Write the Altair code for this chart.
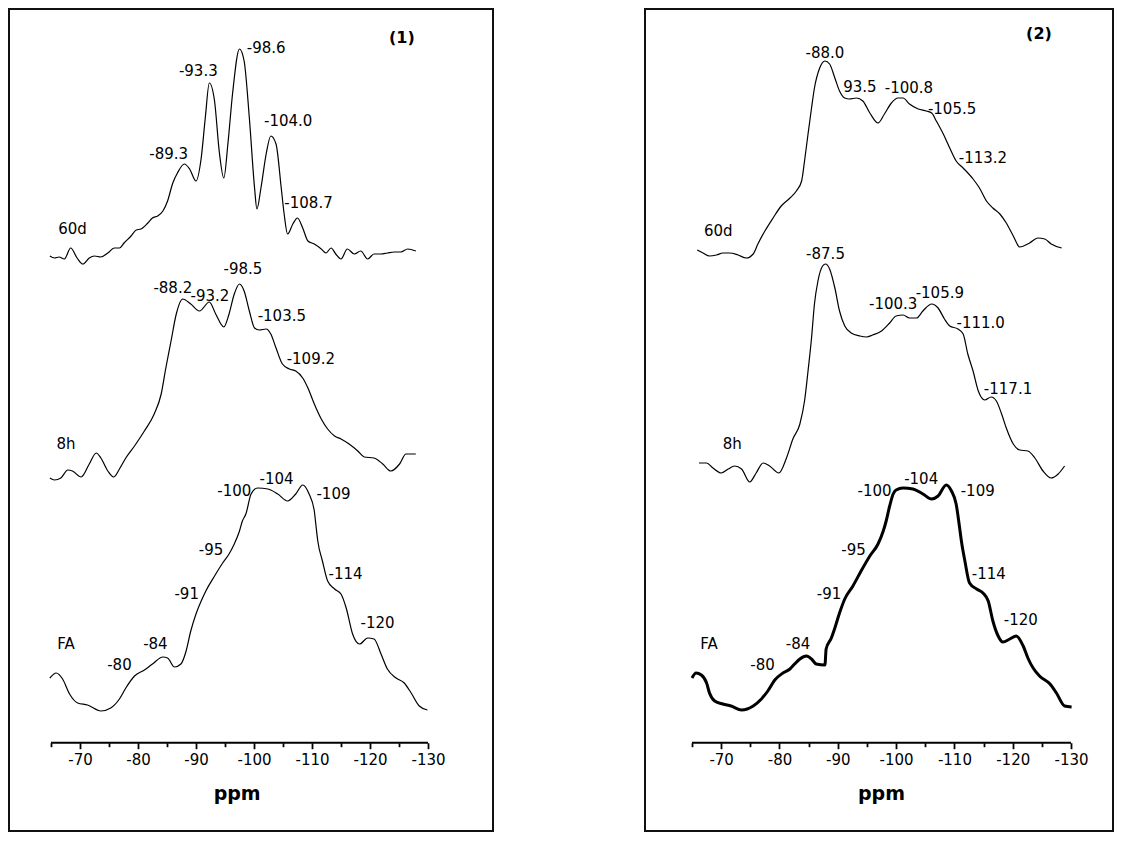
import altair as alt
import pandas as pd

# ---------------- Panel (1) spectra (ppm, stacked intensity a.u.) ----------------
P1_60D_PPM = [-64.8, -65.6, -66.4, -67.3, -68.4, -69.5, -70.5, -71.6, -72.5, -73.6,
              -74.8, -75.9, -76.8, -77.6, -78.8, -79.7, -80.5, -81.7, -82.5, -83.4,
              -84.3, -85.1, -86.0, -86.8, -88.0, -88.9, -90.0, -90.9, -91.6, -92.3,
              -93.2, -94.0, -94.8, -95.5, -96.3, -97.5, -98.3, -99.2, -100.1, -100.5,
              -101.2, -102.1, -102.9, -103.8, -104.7, -105.2, -105.8, -106.7, -107.5, -108.4,
              -109.3, -110.4, -111.6, -112.4, -113.3, -114.1, -115.0, -116.1, -117.3, -118.4,
              -119.6, -120.7, -121.9, -123.0, -124.2, -125.3, -126.5, -127.9]
P1_60D_INT = [585, 583, 584, 582, 593, 583, 577, 583, 585, 584,
              588, 593, 593, 598, 605, 611, 612, 618, 623, 625,
              630, 640, 658, 668, 677, 672, 660, 683, 723, 758,
              740, 690, 663, 697, 747, 792, 780, 723, 653, 632,
              653, 687, 705, 697, 653, 627, 607, 617, 623, 613,
              600, 597, 592, 588, 593, 587, 582, 592, 587, 590,
              582, 587, 587, 588, 589, 589, 592, 590]

P1_8H_PPM = [-64.8, -65.6, -66.7, -67.9, -68.7, -70.2, -71.6, -72.8, -73.6, -74.8,
             -75.8, -76.8, -77.9, -79.4, -81.1, -82.8, -84.0, -84.8, -85.7, -86.6,
             -87.7, -89.1, -90.6, -92.3, -93.4, -94.8, -95.7, -96.6, -97.5, -98.3,
             -99.2, -100.1, -100.9, -102.1, -102.9, -103.8, -104.9, -106.1, -107.2, -108.4,
             -109.3, -110.4, -111.6, -112.7, -113.9, -115.0, -116.4, -117.9, -119.0, -120.7,
             -122.2, -123.6, -125.1, -126.2, -127.9]
P1_8H_INT = [363, 361, 363, 371, 370, 364, 377, 388, 383, 370,
             364, 372, 383, 395, 410, 427, 447, 473, 500, 527,
             542, 537, 530, 539, 527, 514, 527, 547, 557, 550,
             530, 513, 511, 512, 507, 493, 477, 472, 470, 463,
             453, 437, 422, 412, 405, 402, 397, 390, 384, 383,
             377, 370, 377, 387, 387]

P1_FA_PPM = [-64.8, -65.9, -67.0, -68.2, -69.6, -71.3, -73.6, -75.3, -76.8, -77.9,
             -79.4, -81.1, -82.5, -84.3, -85.1, -86.3, -87.4, -88.3, -89.1, -90.0,
             -90.9, -91.7, -93.2, -94.6, -95.7, -96.6, -97.5, -98.0, -98.6, -99.5,
             -100.6, -102.4, -104.1, -105.8, -107.2, -108.4, -109.5, -110.4, -110.6, -111.0,
             -111.8, -112.7, -113.9, -115.0, -115.9, -117.0, -118.2, -119.6, -120.7, -121.9,
             -123.0, -124.5, -125.9, -127.1, -128.5, -129.9]
P1_FA_INT = [163, 168, 162, 147, 138, 136, 130, 133, 142, 153,
             165, 171, 177, 184, 183, 174, 177, 190, 210, 227,
             240, 250, 265, 278, 287, 297, 310, 320, 327, 347,
             353, 352, 347, 340, 347, 356, 347, 330, 320, 300,
             280, 260, 252, 247, 233, 207, 197, 203, 202, 187,
             172, 163, 158, 148, 135, 131]

# ---------------- Panel (2) spectra ----------------
P2_60D_PPM = [-65.9, -66.9, -68.0, -69.2, -70.3, -71.5, -72.9, -74.3, -75.5, -76.3,
              -77.5, -78.9, -80.3, -81.8, -82.9, -83.8, -84.3, -84.9, -85.5, -86.0,
              -86.9, -87.8, -88.6, -89.5, -90.3, -91.2, -92.0, -93.2, -94.3, -95.5,
              -96.9, -98.0, -99.2, -100.3, -101.2, -102.3, -103.8, -105.2, -106.1, -106.9,
              -108.1, -109.2, -110.3, -111.5, -113.2, -114.3, -115.5, -116.6, -117.8, -118.9,
              -120.1, -121.2, -122.9, -124.3, -125.5, -126.6, -128.4]
P2_60D_INT = [591, 588, 585, 586, 588, 588, 586, 583, 587, 597,
              610, 623, 635, 643, 650, 660, 680, 707, 733, 753,
              773, 780, 777, 763, 750, 743, 742, 743, 740, 728,
              718, 727, 738, 743, 743, 737, 732, 730, 728, 720,
              707, 693, 680, 673, 662, 653, 640, 633, 627, 618,
              605, 594, 598, 603, 602, 597, 593]

P2_8H_PPM = [-66.2, -67.5, -68.6, -70.0, -71.2, -72.3, -73.5, -74.9, -76.0, -77.2,
             -78.3, -79.9, -81.2, -82.3, -83.5, -84.3, -84.9, -85.5, -86.0, -86.6,
             -87.4, -87.9, -88.6, -89.5, -90.3, -91.2, -92.3, -93.8, -94.9, -96.0,
             -97.5, -98.9, -100.0, -101.2, -102.3, -103.5, -104.6, -106.1, -107.2, -108.3,
             -109.2, -110.6, -111.5, -112.3, -113.2, -114.1, -115.2, -116.3, -117.2, -118.1,
             -118.9, -120.1, -121.2, -122.6, -123.8, -125.2, -126.6, -127.8, -128.9]
P2_8H_INT = [378, 378, 373, 368, 372, 375, 372, 359, 368, 378,
             375, 368, 383, 402, 417, 440, 470, 503, 537, 560,
             575, 577, 572, 553, 530, 515, 508, 505, 504, 506,
             510, 518, 525, 526, 523, 523, 530, 537, 533, 522,
             515, 512, 507, 487, 470, 450, 441, 444, 440, 427,
             413, 397, 391, 390, 383, 370, 363, 367, 375]

P2_FA_PPM = [-65.0, -65.7, -66.6, -67.5, -68.0, -68.9, -70.3, -71.7, -73.5, -75.5,
             -76.9, -78.0, -79.2, -80.6, -81.8, -82.6, -83.5, -84.6, -85.5, -86.3,
             -87.8, -88.0, -88.9, -89.5, -90.3, -91.2, -92.6, -94.0, -95.5, -96.9,
             -97.8, -98.3, -98.9, -99.5, -100.0, -101.2, -102.9, -104.6, -106.1, -107.2,
             -108.6, -109.5, -110.3, -110.9, -111.2, -111.8, -112.6, -113.8, -114.9, -115.8,
             -116.6, -117.5, -118.3, -119.5, -120.6, -121.8, -122.6, -123.5, -124.6, -126.4,
             -127.5, -128.9, -130.1]
P2_FA_INT = [163, 168, 166, 158, 148, 140, 137, 135, 131, 135,
             142, 150, 161, 168, 172, 177, 182, 185, 182, 177,
             176, 192, 203, 213, 228, 242, 255, 270, 285, 297,
             310, 320, 335, 347, 351, 353, 352, 347, 342, 345,
             356, 350, 337, 313, 300, 280, 258, 252, 248, 240,
             220, 205, 199, 202, 205, 195, 183, 173, 165, 157,
             148, 135, 134]

# ---------------- Annotations ----------------
P1_TEXT = ["-98.6", "-93.3", "-104.0", "-89.3", "-108.7", "60d",
           "-98.5", "-88.2", "-93.2", "-103.5", "-109.2", "8h",
           "-100", "-104", "-109", "-95", "-91", "-114", "-120", "FA", "-84", "-80"]
P1_TEXT_PPM = [-102.1, -90.4, -105.9, -85.3, -109.4, -68.7,
               -98.1, -86.0, -92.4, -104.8, -109.8, -67.6,
               -96.6, -103.9, -113.7, -92.6, -88.4, -115.8, -121.3, -67.6, -83.0, -76.8]
P1_TEXT_INT = [793, 770, 720, 687, 638, 612,
               572, 553, 545, 525, 482, 397,
               350, 362, 347, 291, 247, 267, 218, 197, 197, 176]

P2_TEXT = ["-88.0", "93.5", "-100.8", "-105.5", "-113.2", "60d",
           "-87.5", "-105.9", "-100.3", "-111.0", "-117.1", "8h",
           "-100", "-104", "-109", "-95", "-91", "-114", "-120", "FA", "-84", "-80"]
P2_TEXT_PPM = [-87.8, -93.8, -102.2, -109.6, -114.9, -69.5,
               -87.9, -107.5, -99.5, -114.5, -119.2, -71.9,
               -96.3, -104.3, -114.0, -92.7, -88.5, -115.9, -121.4, -67.9, -83.2, -77.1]
P2_TEXT_INT = [788, 754, 753, 732, 683, 610,
               587, 548, 537, 518, 452, 397,
               350, 362, 350, 291, 247, 267, 221, 197, 197, 176]

PANEL_TAGS = ["(1)", "(2)"]
TAG_PPM = [-125.5, -124.5]
TAG_INT = [803, 807]
AXIS_TITLE = "ppm"
TITLE_PPM = [-97.1, -97.5]
TITLE_INT = [47, 47]

# axis
TICK_VALUES = [-65, -70, -75, -80, -85, -90, -95, -100, -105, -110, -115, -120, -125, -130]
AXIS_START, AXIS_END = -65, -130
AXIS_LEVEL = 98.3

# view geometry (display)
Y_DOMAIN = [10, 832]
PANEL_H = 822
P1_XDOM = [-141.21, -57.76]
P2_XDOM = [-137.2, -56.94]
P1_W = 484
P2_W = 468

FONT = "DejaVu Sans"


def panel(traces, texts, tppm, tint, tag, tag_ppm, tag_int, title_ppm, title_int, xdom, width):
    xs = alt.Scale(domain=xdom, reverse=True, nice=False, zero=False)
    ys = alt.Scale(domain=Y_DOMAIN, nice=False, zero=False)
    offset = (Y_DOMAIN[1] - AXIS_LEVEL) - PANEL_H
    ax = alt.Axis(
        values=TICK_VALUES,
        labelExpr="datum.value % 10 == 0 ? '-' + abs(datum.value) : ''",
        domain=False, grid=False, offset=offset, title=None,
        tickSize={"condition": {"test": "datum.value % 10 == 0", "value": 6}, "value": 4},
        tickWidth=1.8, tickColor="black",
        labelFont=FONT, labelFontSize=15, labelColor="black", labelPadding=4,
        labelFlush=False, labelOverlap=False,
    )
    X = lambda f: alt.X(f, type="quantitative", scale=xs, axis=ax)
    Y = lambda f: alt.Y(f, type="quantitative", scale=ys, axis=None)
    layers = []
    for ppm, inten, sw in traces:
        df = pd.DataFrame({"ppm": ppm, "v": inten, "i": list(range(len(ppm)))})
        layers.append(
            alt.Chart(df).mark_line(color="black", strokeWidth=sw, interpolate="monotone").encode(
                x=X("ppm"), y=Y("v"), order=alt.Order("i:Q")
            )
        )
    axdf = pd.DataFrame({"ppm": [AXIS_START], "ppm2": [AXIS_END], "v": [AXIS_LEVEL]})
    layers.append(
        alt.Chart(axdf).mark_rule(color="black", strokeWidth=2).encode(
            x=X("ppm"), x2=alt.X2("ppm2"), y=Y("v")
        )
    )
    tdf = pd.DataFrame({"ppm": tppm, "v": tint, "t": texts})
    layers.append(
        alt.Chart(tdf).mark_text(font=FONT, fontSize=15, color="black", align="center", baseline="middle").encode(
            x=X("ppm"), y=Y("v"), text="t:N"
        )
    )
    tagdf = pd.DataFrame({"ppm": [tag_ppm], "v": [tag_int], "t": [tag]})
    layers.append(
        alt.Chart(tagdf).mark_text(font=FONT, fontSize=16, fontWeight="bold", color="black",
                                   align="center", baseline="middle").encode(
            x=X("ppm"), y=Y("v"), text="t:N"
        )
    )
    ttl = pd.DataFrame({"ppm": [title_ppm], "v": [title_int], "t": [AXIS_TITLE]})
    layers.append(
        alt.Chart(ttl).mark_text(font=FONT, fontSize=19, fontWeight="bold", color="black",
                                 align="center", baseline="middle").encode(
            x=X("ppm"), y=Y("v"), text="t:N"
        )
    )
    return alt.layer(*layers).properties(width=width, height=PANEL_H)


left = panel(
    [(P1_60D_PPM, P1_60D_INT, 1.2), (P1_8H_PPM, P1_8H_INT, 1.2), (P1_FA_PPM, P1_FA_INT, 1.2)],
    P1_TEXT, P1_TEXT_PPM, P1_TEXT_INT, PANEL_TAGS[0], TAG_PPM[0], TAG_INT[0],
    TITLE_PPM[0], TITLE_INT[0], P1_XDOM, P1_W,
)
right = panel(
    [(P2_60D_PPM, P2_60D_INT, 1.2), (P2_8H_PPM, P2_8H_INT, 1.2), (P2_FA_PPM, P2_FA_INT, 3)],
    P2_TEXT, P2_TEXT_PPM, P2_TEXT_INT, PANEL_TAGS[1], TAG_PPM[1], TAG_INT[1],
    TITLE_PPM[1], TITLE_INT[1], P2_XDOM, P2_W,
)

chart = (
    alt.hconcat(left, right, spacing=150)
    .properties(padding=0, background="white")
    .configure_view(stroke="#111111", strokeWidth=2)
)

chart.save("out.html", embed_options={"renderer": "svg", "actions": False})
